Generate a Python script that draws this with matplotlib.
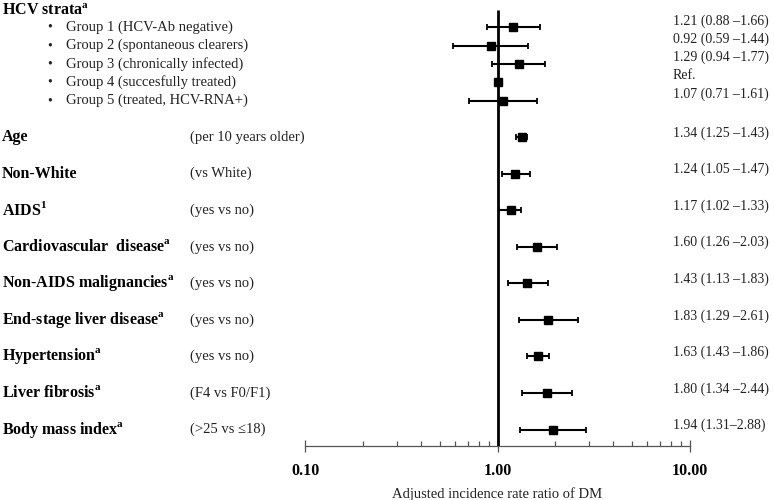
import numpy as np
import matplotlib
matplotlib.use("Agg")
import matplotlib.pyplot as plt
import matplotlib.transforms as mtransforms

# --- Data ---
group_labels = ["Group 1 (HCV-Ab negative)", "Group 2 (spontaneous clearers)",
                "Group 3 (chronically infected)", "Group 4 (succesfully treated)",
                "Group 5 (treated, HCV-RNA+)"]
group_est = [1.21, 0.92, 1.29, 1.00, 1.07]
group_lo = [0.88, 0.59, 0.94, np.nan, 0.71]
group_hi = [1.66, 1.44, 1.77, np.nan, 1.61]
group_txt = ["1.21 (0.88 \u20131.66)", "0.92 (0.59 \u20131.44)", "1.29 (0.94 \u20131.77)",
             "Ref.", "1.07 (0.71 \u20131.61)"]

var_labels = ["Age", "Non-White", r"AIDS$^{\mathbf{1}}$",
              r"Cardiovascular  disease$^{\mathbf{a}}$",
              r"Non-AIDS malignancies$^{\mathbf{a}}$",
              r"End-stage liver disease$^{\mathbf{a}}$",
              r"Hypertension$^{\mathbf{a}}$", r"Liver fibrosis$^{\mathbf{a}}$",
              r"Body mass index$^{\mathbf{a}}$"]
var_sub = ["(per 10 years older)", "(vs White)", "(yes vs no)", "(yes vs no)",
           "(yes vs no)", "(yes vs no)", "(yes vs no)", "(F4 vs F0/F1)",
           "(>25 vs \u226418)"]
var_est = [1.34, 1.24, 1.17, 1.60, 1.43, 1.83, 1.63, 1.80, 1.94]
var_lo = [1.25, 1.05, 1.02, 1.26, 1.13, 1.29, 1.43, 1.34, 1.31]
var_hi = [1.43, 1.47, 1.33, 2.03, 1.83, 2.61, 1.86, 2.44, 2.88]
var_txt = ["1.34 (1.25 \u20131.43)", "1.24 (1.05 \u20131.47)", "1.17 (1.02 \u20131.33)",
           "1.60 (1.26 \u20132.03)", "1.43 (1.13 \u20131.83)", "1.83 (1.29 \u20132.61)",
           "1.63 (1.43 \u20131.86)", "1.80 (1.34 \u20132.44)", "1.94 (1.31\u20132.88)"]

# --- Style ---
plt.rcParams['font.family'] = ['Liberation Serif', 'DejaVu Serif']
plt.rcParams['mathtext.fontset'] = 'custom'
plt.rcParams['mathtext.rm'] = 'Liberation Serif'
plt.rcParams['mathtext.bf'] = 'Liberation Serif:bold'

W, H = 774, 500
fig = plt.figure(figsize=(W / 100, H / 100), dpi=100)
ax = fig.add_axes([305 / W, 54 / H, 385 / W, 446 / H])

# row positions (in row units, top = 0)
header_y = 0.6
group_y = np.arange(len(group_labels)) + 1.5
var_y = np.arange(len(var_labels)) * 2 + 7.5
y_bottom = 24.4

ax.set_xscale('log')
ax.set_xlim(0.1, 10)
ax.set_ylim(y_bottom, 0)

# reference line at 1
ax.vlines(1.0, 0.55, y_bottom, color='black', lw=2.0, zorder=3)

all_y = np.concatenate([group_y, var_y])
all_est = np.array(group_est + var_est)
all_lo = np.array(group_lo + var_lo)
all_hi = np.array(group_hi + var_hi)
ok = ~np.isnan(all_lo)
ax.errorbar(all_est[ok], all_y[ok],
            xerr=[all_est[ok] - all_lo[ok], all_hi[ok] - all_est[ok]],
            fmt='none', ecolor='black', elinewidth=1.5, capsize=2.5,
            capthick=1.3, zorder=4)
ax.plot(all_est, all_y, 's', color='black', ms=6.3, zorder=5)

# axis styling
for s in ['top', 'right', 'left']:
    ax.spines[s].set_visible(False)
ax.spines['bottom'].set_color('#555555')
ax.spines['bottom'].set_linewidth(0.9)
ax.set_yticks([])
ax.set_xticks([0.1, 1, 10])
ax.set_xticklabels(['0.10', '1.00', '10.00'], fontweight='bold', fontsize=11.5)
ax.tick_params(axis='x', which='major', direction='inout', length=8.5,
               width=0.9, color='#555555', pad=8)
ax.tick_params(axis='x', which='minor', direction='in', length=3.8,
               width=0.9, color='#555555')
ax.set_xlabel('Adjusted incidence rate ratio of DM', fontsize=10.5,
              color='#222222', labelpad=6)

# text columns: x in figure fraction, y in data rows
tr = mtransforms.blended_transform_factory(fig.transFigure, ax.transData)
fig.text(2 / W, header_y, r"HCV strata$^{\mathbf{a}}$", transform=tr,
         fontsize=11.5, fontweight='bold', va='center')
for y, lab, txt in zip(group_y, group_labels, group_txt):
    fig.text(50 / W, y, "\u2022", transform=tr, fontsize=10, va='center',
             ha='center', color='#222222')
    fig.text(66 / W, y, lab, transform=tr, fontsize=10.5, va='center',
             color='#222222')
    fig.text(673 / W, y - 0.35, txt, transform=tr, fontsize=10,
             va='center', color='#222222')
for y, lab, sub, txt in zip(var_y, var_labels, var_sub, var_txt):
    fig.text(2 / W, y, lab, transform=tr, fontsize=11.5, fontweight='bold',
             va='center')
    fig.text(190 / W, y, sub, transform=tr, fontsize=10.5, va='center',
             color='#222222')
    fig.text(673 / W, y - 0.22, txt, transform=tr, fontsize=10,
             va='center', color='#222222')

fig.savefig('out.png', dpi=100)
